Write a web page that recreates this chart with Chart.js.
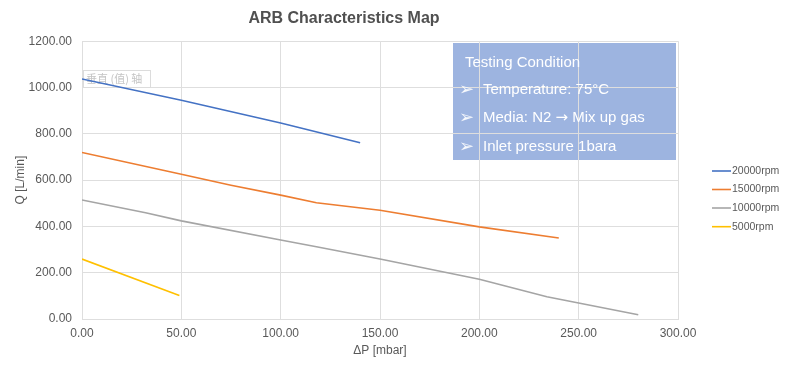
<!DOCTYPE html>
<html>
<head>
<meta charset="utf-8">
<script src="https://cdn.jsdelivr.net/npm/chart.js@4/dist/chart.umd.min.js"></script>
<style>
html,body{margin:0;padding:0;background:#fff;}
#wrap{width:800px;height:370px;position:relative;}
</style>
</head>
<body>
<div id="wrap"><canvas id="c" width="800" height="370"></canvas></div>
<script>
const seriesNames = ["20000rpm", "15000rpm", "10000rpm", "5000rpm"];
const seriesColors = ["#4472C4", "#ED7D31", "#A5A5A5", "#FFC000"];

const dp20000 = [0, 50, 100, 140];
const q20000  = [1037, 945, 847, 761];

const dp15000 = [0, 50, 75, 100, 118, 150, 200, 240];
const q15000  = [719, 625, 578, 535, 502, 470, 398, 350];

const dp10000 = [0, 32, 50, 100, 118, 150, 200, 234, 280];
const q10000  = [514, 459, 424, 341, 312, 259, 172, 96, 18];

const dp5000 = [0, 49];
const q5000  = [259, 101];

const xTicks = [0, 50, 100, 150, 200, 250, 300];
const yTicks = [0, 200, 400, 600, 800, 1000, 1200];

const noteTitle = "Testing Condition";
const noteLines = [["Temperature: 75\u00B0C"], ["Media: N2 ", "\u2192", " Mix up gas"], ["Inlet pressure 1bara"]];
const ghostLabel = "垂直 (值) 轴";

const FONT = "'Liberation Sans', Arial, sans-serif";
const TXT = "#595959";

function pts(xs, ys){ return xs.map((x,i)=>({x:x, y:ys[i]})); }
const allX = [dp20000, dp15000, dp10000, dp5000];
const allY = [q20000, q15000, q10000, q5000];

const datasets = seriesNames.map((n,i)=>({
  label: n,
  data: pts(allX[i], allY[i]),
  borderColor: seriesColors[i],
  backgroundColor: seriesColors[i],
  borderWidth: 1.6,
  pointRadius: 0,
  tension: 0,
  fill: false
}));

const boxPlugin = {
  id: 'notebox',
  beforeDraw(chart){
    const ctx = chart.ctx;
    ctx.save();
    ctx.fillStyle = "#9DB4E0";
    ctx.fillRect(453, 43, 223, 117);
    ctx.restore();
  },
  beforeDatasetsDraw(chart){
    const ctx = chart.ctx;
    ctx.save();
    ctx.font = "11px 'Noto Sans CJK SC', sans-serif";
    ctx.fillStyle = "rgba(255,255,255,0.6)";
    ctx.fillRect(83, 70, 67, 17);
    ctx.strokeStyle = "#dcdcdc";
    ctx.lineWidth = 1;
    ctx.strokeRect(83.5, 70.5, 67, 17);
    ctx.fillStyle = "#c4c4c4";
    ctx.textBaseline = "middle";
    ctx.fillText(ghostLabel, 86, 79);
    ctx.restore();
  },
  afterDraw(chart){
    const ctx = chart.ctx;
    ctx.save();
    ctx.fillStyle = "#ffffff";
    ctx.textBaseline = "middle";
    ctx.font = "15px " + FONT;
    ctx.fillText(noteTitle, 465, 63);
    const ys = [90, 118, 147];
    noteLines.forEach((parts,i)=>{
      ctx.font = "18px 'DejaVu Sans', sans-serif";
      ctx.fillStyle = "rgba(255,255,255,0.9)";
      ctx.fillText("\u27A2", 459, ys[i]);
      ctx.fillStyle = "#ffffff";
      let x = 483;
      parts.forEach(p=>{
        ctx.font = (p === "\u2192" ? "15px 'DejaVu Sans', sans-serif" : "15px " + FONT);
        ctx.fillText(p, x, ys[i]);
        x += ctx.measureText(p).width;
      });
    });
    // legend
    const ly = [171, 189.5, 208, 226.7];
    ctx.font = "10.5px " + FONT;
    seriesNames.forEach((n,i)=>{
      ctx.strokeStyle = seriesColors[i];
      ctx.lineWidth = 1.6;
      ctx.beginPath();
      ctx.moveTo(712, ly[i]);
      ctx.lineTo(731, ly[i]);
      ctx.stroke();
      ctx.fillStyle = TXT;
      ctx.fillText(n, 732, ly[i]);
    });
    ctx.restore();
  }
};

new Chart(document.getElementById('c'), {
  type: 'line',
  data: { datasets: datasets },
  options: {
    responsive: false,
    animation: false,
    layout: { padding: { left: 10, right: 122, top: 0, bottom: 0 } },
    plugins: {
      legend: { display: false },
      tooltip: { enabled: false },
      title: {
        display: true,
        text: "ARB Characteristics Map",
        color: "#505050",
        font: { family: FONT, size: 16, weight: 'bold' },
        padding: { top: 9, bottom: 13 }
      }
    },
    scales: {
      x: {
        type: 'linear',
        min: 0, max: 300,
        afterBuildTicks(s){ s.ticks = xTicks.map(v=>({value:v})); },
        afterFit(s){ s.height = 51; },
        grid: { color: "#dedede", drawTicks: false },
        border: { color: "#dedede" },
        ticks: {
          padding: 7,
          color: TXT,
          font: { family: FONT, size: 12 },
          callback: v => Number(v).toFixed(2)
        },
        title: {
          display: true,
          text: "\u0394P [mbar]",
          color: TXT,
          font: { family: FONT, size: 12 },
          padding: { top: 0, bottom: 11.8 }
        }
      },
      y: {
        min: 0, max: 1200,
        afterBuildTicks(s){ s.ticks = yTicks.map(v=>({value:v})); },
        afterFit(s){ s.width = 72; },
        grid: { color: "#dedede", drawTicks: false },
        border: { color: "#dedede" },
        ticks: {
          padding: 10,
          color: TXT,
          font: { family: FONT, size: 12 },
          callback: v => Number(v).toFixed(2)
        },
        title: {
          display: true,
          text: "Q [L/min]",
          color: TXT,
          font: { family: FONT, size: 12 },
          padding: { top: 3, bottom: 0 }
        }
      }
    }
  },
  plugins: [boxPlugin]
});
</script>
</body>
</html>
